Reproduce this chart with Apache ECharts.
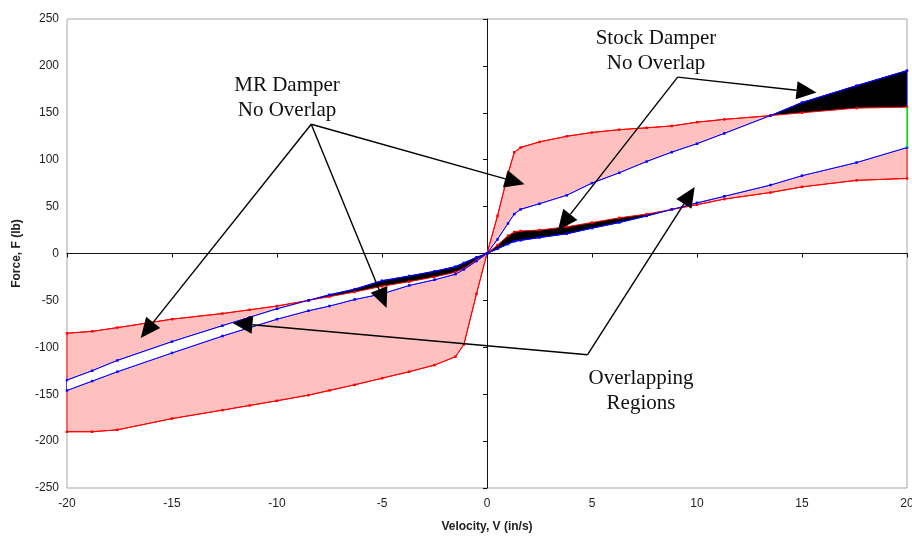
<!DOCTYPE html>
<html>
<head>
<meta charset="utf-8">
<script src="https://cdn.jsdelivr.net/npm/echarts@6/dist/echarts.min.js"></script>
<style>
  html, body { margin: 0; padding: 0; background: #ffffff; }
  #chart { width: 912px; height: 538px; }
</style>
</head>
<body>
<div id="chart"></div>
<script>
// Velocity samples (in/s) shared by all four boundary curves
const velocity = [-20, -18.8, -17.6, -15, -12.6, -11.3, -10, -8.5, -7.5, -6.3, -5, -3.7, -2.5, -1.5, -1.1, -0.5,
  0, 0.5, 1.0, 1.3, 1.6, 2.5, 3.8, 5.0, 6.3, 7.6, 8.8, 10, 11.3, 13.5, 15, 17.6, 20];

// MR damper force envelope (lb)
const mrUpper = [-85, -83, -79, -70, -64, -60, -56, -50, -46, -41, -35, -30, -25, -20, -16, -7,
  0, 40, 85, 108, 113, 119, 125, 129, 132, 134, 136, 140, 143, 147, 150, 155, 156];
const mrLower = [-190, -190, -188, -176, -167, -162, -157, -151, -146, -140, -133, -126, -119, -110, -97, -43,
  0, 9, 19, 23, 24, 25, 28.5, 33, 38, 42, 47, 52, 58, 65, 71, 78, 80];

// Stock damper force envelope (lb)
const stockUpper = [-135, -125, -114, -94, -77, -68, -59, -50, -44, -38, -29, -24, -19, -14, -10, -4,
  0, 15, 32, 42, 47, 53, 62, 75, 86, 98, 108, 117, 128, 147, 161, 179, 195];
const stockLower = [-146, -136, -126, -106, -88, -79, -70, -61, -56, -49, -43, -34, -28, -22, -17, -8,
  0, 5, 10, 13, 14, 17, 21, 27, 33, 40, 47, 54, 61, 73, 83, 97, 113];

// Axis ranges and tick steps
const xRange = [-20, 20], xStep = 5;
const yRange = [-250, 250], yStep = 50;

// Callout arrows: [fromV, fromF, toV, toF] in data units
const mrArrows = [[-8.37, 137.8, -16.49, -90.1], [-8.37, 137.8, -4.78, -58.0], [-8.37, 137.8, 1.79, 73.7]];
const stockArrows = [[9.08, 188.0, 15.69, 171.7], [9.08, 188.0, 3.38, 24.9]];
const overlapArrows = [[4.79, -107.9, 9.89, 70.8], [4.79, -107.9, -12.12, -74.0]];

const pairs = arr => velocity.map((v, i) => [v, arr[i]]);

function bandPolygon(api, top, bottom) {
  const pts = [];
  for (let i = 0; i < velocity.length; i++) pts.push(api.coord([velocity[i], top[i]]));
  for (let i = velocity.length - 1; i >= 0; i--) pts.push(api.coord([velocity[i], bottom[i]]));
  return pts;
}

const chart = echarts.init(document.getElementById('chart'), null, { renderer: 'canvas' });

const labelFont = { fontFamily: 'Liberation Sans, Arial, sans-serif', fontSize: 12, color: '#222' };
const nameFont = { fontFamily: 'Liberation Sans, Arial, sans-serif', fontSize: 12, fontWeight: 'bold', color: '#222' };

function curve(name, values, color) {
  return {
    name: name, type: 'line', data: pairs(values), z: 4,
    lineStyle: { color: color, width: 1 },
    itemStyle: { color: color },
    symbol: 'rect', symbolSize: 2.5, showSymbol: true, showAllSymbol: true,
    silent: true, animation: false
  };
}

function arrowSeries(list) {
  return {
    type: 'custom', data: list, z: 6, silent: true, animation: false, clip: false,
    encode: { x: [0, 2], y: [1, 3] },
    renderItem: function (params, api) {
      const p1 = api.coord([api.value(0), api.value(1)]);
      const p2 = api.coord([api.value(2), api.value(3)]);
      const dx = p2[0] - p1[0], dy = p2[1] - p1[1];
      const len = Math.sqrt(dx * dx + dy * dy);
      const ux = dx / len, uy = dy / len;
      const headLen = 20, headHalf = 9;
      const bx = p2[0] - ux * headLen, by = p2[1] - uy * headLen;
      return {
        type: 'group',
        children: [
          { type: 'line', shape: { x1: p1[0], y1: p1[1], x2: bx, y2: by },
            style: { stroke: '#000', lineWidth: 1.4 } },
          { type: 'polygon', shape: { points: [p2, [bx - uy * headHalf, by + ux * headHalf], [bx + uy * headHalf, by - ux * headHalf]] },
            style: { fill: '#000' } }
        ]
      };
    }
  };
}

function calloutText(text, x, y) {
  return {
    type: 'text', x: x, y: y, silent: true, z: 100,
    style: {
      text: text, font: '21px "Liberation Serif", "Times New Roman", serif', fill: '#111',
      textAlign: 'center', textVerticalAlign: 'middle', align: 'center', verticalAlign: 'middle'
    }
  };
}

const last = velocity.length - 1;

chart.setOption({
  animation: false,
  backgroundColor: '#ffffff',
  grid: {
    left: 67, right: 5, top: 19, bottom: 50, containLabel: false, outerBoundsMode: 'none',
    show: true, borderColor: '#a6a6a6', borderWidth: 1, backgroundColor: 'transparent'
  },
  xAxis: [
    {
      type: 'value', min: xRange[0], max: xRange[1], interval: xStep, position: 'bottom',
      axisLine: { show: false, onZero: false }, axisTick: { show: false }, splitLine: { show: false },
      axisLabel: Object.assign({ margin: 10 }, labelFont),
      name: 'Velocity, V (in/s)', nameLocation: 'middle', nameGap: 33, nameTextStyle: nameFont
    },
    {
      type: 'value', min: xRange[0], max: xRange[1], interval: xStep, position: 'top',
      axisLine: { show: true, onZero: true, onZeroAxisIndex: 0, lineStyle: { color: '#111', width: 1 } },
      axisTick: { show: true, inside: true, length: 4, lineStyle: { color: '#111' } },
      axisLabel: { show: false }, splitLine: { show: false }
    }
  ],
  yAxis: [
    {
      type: 'value', min: yRange[0], max: yRange[1], interval: yStep, position: 'left',
      axisLine: { show: false, onZero: false }, axisTick: { show: false }, splitLine: { show: false },
      axisLabel: Object.assign({ margin: 8 }, labelFont),
      name: 'Force, F (lb)', nameLocation: 'middle', nameGap: 44, nameTextStyle: nameFont
    },
    {
      type: 'value', min: yRange[0], max: yRange[1], interval: yStep, position: 'right',
      axisLine: { show: true, onZero: true, onZeroAxisIndex: 0, lineStyle: { color: '#111', width: 1 } },
      axisTick: { show: true, inside: true, length: 4, lineStyle: { color: '#111' } },
      axisLabel: { show: false }, splitLine: { show: false }
    }
  ],
  series: [
    {
      // Filled regions: pink = MR only, black = stock only, white = shared
      type: 'custom', data: [[0, 0]], z: 1, silent: true, animation: false,
      renderItem: function (params, api) {
        const mr = bandPolygon(api, mrUpper, mrLower);
        const st = bandPolygon(api, stockUpper, stockLower);
        return {
          type: 'group',
          children: [
            { type: 'polygon', shape: { points: mr }, style: { fill: '#ffc0c0', stroke: '#ff0000', lineWidth: 1 } },
            { type: 'polygon', shape: { points: st }, style: { fill: '#000000', stroke: '#0000ff', lineWidth: 1 } },
            { type: 'polygon', shape: { points: st }, style: { fill: '#ffffff' },
              clipPath: { type: 'polygon', shape: { points: mr } } }
          ]
        };
      }
    },
    curve('MR upper', mrUpper, '#ff0000'),
    curve('MR lower', mrLower, '#ff0000'),
    curve('Stock upper', stockUpper, '#0000ff'),
    curve('Stock lower', stockLower, '#0000ff'),
    {
      // right edge of the shared region
      type: 'line', z: 5, silent: true, animation: false, symbol: 'none',
      data: [[velocity[last], stockLower[last]], [velocity[last], mrUpper[last]]],
      lineStyle: { color: '#00ff00', width: 1.5 }
    },
    arrowSeries(mrArrows),
    arrowSeries(stockArrows),
    arrowSeries(overlapArrows)
  ],
  graphic: [
    calloutText('MR Damper', 287, 85),
    calloutText('No Overlap', 287, 110),
    calloutText('Stock Damper', 656, 38),
    calloutText('No Overlap', 656, 63),
    calloutText('Overlapping', 641, 378),
    calloutText('Regions', 641, 403)
  ]
});
</script>
</body>
</html>
